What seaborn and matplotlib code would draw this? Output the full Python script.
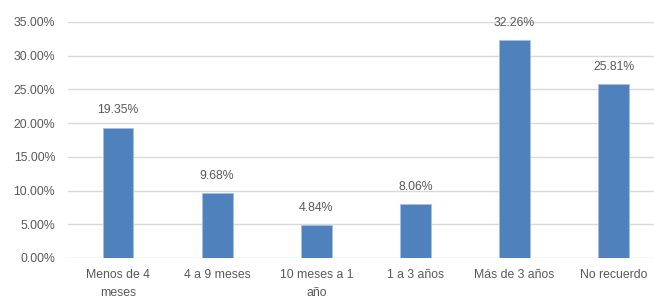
import matplotlib.pyplot as plt
import seaborn as sns
import pandas as pd
from matplotlib.ticker import PercentFormatter

categories = ["Menos de 4\nmeses", "4 a 9 meses", "10 meses a 1\naño",
              "1 a 3 años", "Más de 3 años", "No recuerdo"]
values = [19.35, 9.68, 4.84, 8.06, 32.26, 25.81]
y_ticks = [0, 5, 10, 15, 20, 25, 30, 35]

BAR_COLOR = "#4F81BD"
TEXT_COLOR = "#595959"
GRID_COLOR = "#D9D9D9"

sns.set_style("white")
plt.rcParams["font.family"] = ["Liberation Sans", "DejaVu Sans"]

df = pd.DataFrame({"cat": categories, "val": values})

fig = plt.figure(figsize=(6.54, 2.98), dpi=100)
ax = fig.add_axes([68.4 / 654, 1 - 258 / 298, 595 / 654, 236 / 298])

sns.barplot(data=df, x="cat", y="val", color=BAR_COLOR, width=0.31,
            saturation=1, edgecolor="#A9C1E0", linewidth=0.6,
            ax=ax, zorder=3)

ax.set_ylim(0, 35)
ax.set_yticks(y_ticks)
ax.yaxis.set_major_formatter(PercentFormatter(decimals=2))
ax.grid(axis="y", color=GRID_COLOR, linewidth=1, zorder=0)
ax.set_axisbelow(True)
for s in ax.spines.values():
    s.set_visible(False)
ax.tick_params(axis="both", length=0, labelsize=8.8, colors=TEXT_COLOR)
ax.tick_params(axis="y", pad=9.5)
ax.tick_params(axis="x", pad=8)
ax.set_xlabel("")
ax.set_ylabel("")

for lab in ax.get_xticklabels():
    lab.set_linespacing(1.6)

labels = [f"{v:.2f}%" for v in values]
ax.bar_label(ax.containers[0], labels=labels, padding=8,
             fontsize=8.8, color=TEXT_COLOR)

fig.savefig("out.png", dpi=100)
